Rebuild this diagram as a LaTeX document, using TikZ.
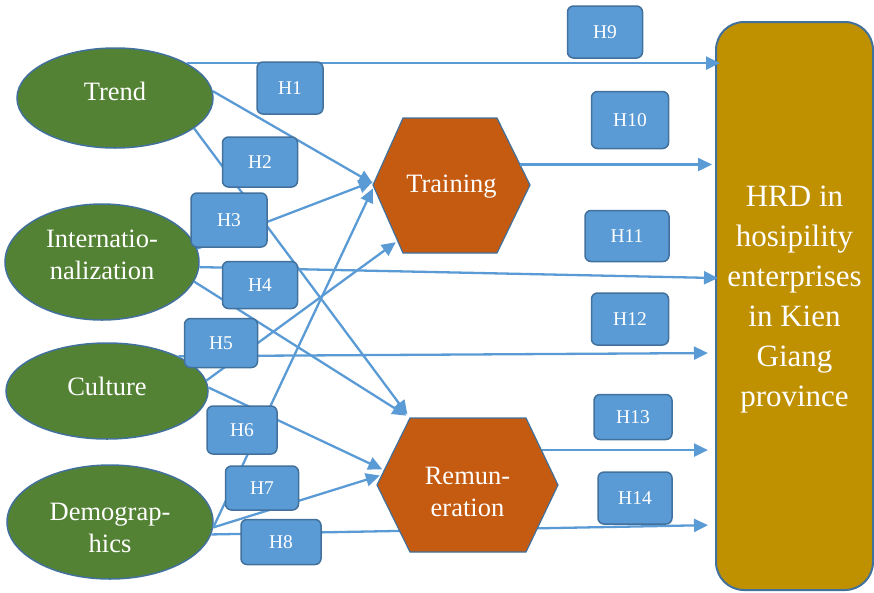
\documentclass[tikz,border=0pt]{standalone}
\usepackage{fontspec}
\setmainfont{Liberation Serif}
\usepackage{tikz}
\usetikzlibrary{calc}
\usetikzlibrary{arrows.meta}
\usetikzlibrary{shapes.geometric}

\definecolor{factgreen}{HTML}{548235}
\definecolor{edgeblue}{HTML}{41719C}
\definecolor{hypblue}{HTML}{5B9BD5}
\definecolor{hexorange}{HTML}{C55A11}
\definecolor{hrdgold}{HTML}{BF9000}

\tikzset{
  factor/.style={ellipse, draw=edgeblue, line width=1.5pt, fill=factgreen, text=white,
    align=center, inner sep=0pt, font=\fontsize{26.5}{32}\selectfont},
  midtext/.style={rectangle, draw=none, text=white, align=center, inner sep=0pt,
    font=\fontsize{26.5}{32}\selectfont},
  hexa/.style={draw=edgeblue, line width=1.2pt, fill=hexorange},
  outcome/.style={rectangle, rounded corners=28pt, draw=edgeblue, line width=2pt, fill=hrdgold,
    text=white, align=center, minimum width=157pt, minimum height=568pt, text depth=19pt,
    font=\fontsize{31}{40}\selectfont},
  hyp/.style={rectangle, rounded corners=6pt, draw=edgeblue, line width=1.5pt, fill=hypblue,
    text=white, inner sep=0pt, font=\fontsize{19.5}{22}\selectfont},
  link/.style={draw=hypblue, line width=2.3pt, -{Triangle[length=14pt,width=13pt]}}
}

\begin{document}
\begin{tikzpicture}[x=1pt,y=-1pt]
\useasboundingbox (0,0) rectangle (874,592);
% factors
\node[factor, minimum width=196pt, minimum height=100pt, text depth=14pt] (trend) at (115,98) {Trend};
\node[factor, minimum width=194pt, minimum height=116pt, text depth=14pt] (intl) at (102,262) {Internatio-\\nalization};
\node[factor, minimum width=202pt, minimum height=96pt, text depth=10pt] (cult) at (107,391) {Culture};
\node[factor, minimum width=206pt, minimum height=114pt] (demo) at (110,522) {\rule{0pt}{29pt}Demograp-\\hics};
% outcome
\node[outcome] (hrd) at (794.5,306) {HRD in\\hosipility\\enterprises\\in Kien\\Giang\\province};
\draw[link, shorten >=7pt] (demo.-7) -- ([yshift=-219pt]hrd.west);
% mediators
\filldraw[hexa] (373,185) -- (403,118) -- (497,118) -- (530,185) -- (497,253) -- (403,253) -- cycle;
\node[midtext, minimum width=157pt, minimum height=135pt, text depth=4pt] (train) at (451.5,185.5) {Training};
\filldraw[hexa] (377,485) -- (410,418) -- (526,418) -- (558,485) -- (526,552) -- (410,552) -- cycle;
\node[midtext, minimum width=181pt, minimum height=134pt] (remu) at (467.5,485) {\rule{0pt}{31pt}Remun-\\eration};
\coordinate (trainNE) at ([xshift=-33pt]train.north east);
\coordinate (trainSW) at ([xshift=30pt]train.south west);
\coordinate (remuNW) at ([xshift=33pt]remu.north west);
\coordinate (remuNE) at ([xshift=-32pt]remu.north east);
\coordinate (trainOut) at ($(trainNE)!.69!(train.east)$);
\coordinate (remuOut) at ($(remuNE)!.48!(remu.east)$);
% paths
\draw[link, shorten >=-5pt] (trend.26) -- (trend.26 -| hrd.west);
\draw[link] (trend.4) -- ([yshift=2pt]train.west);
\draw[link, shorten >=4pt] (trend.-21) -- (remuNW);
\draw[link] (intl.8) -- ([yshift=4pt]train.west);
\draw[link, shorten >=-3pt] (intl.-3) -- ([yshift=28pt]hrd.west);
\draw[link, shorten >=4pt] (intl.-12) -- (remuNW);
\draw[link, shorten >=2pt] (cult.6) -- ($(train.west)!.82!(trainSW)$);
\draw[link, shorten >=7pt] (cult.26) -- ([yshift=-47pt]hrd.west);
\draw[link, shorten >=2pt] (cult.2) -- ($(remu.west)!.22!(remuNW)$);
\draw[link] (demo.-3) -- ([yshift=-3pt]train.west);
\draw[link, shorten >=2pt] (demo.-3) -- ($(remu.west)!.15!(remuNW)$);
\draw[link, shorten >=3pt] (trainOut) -- (trainOut -| hrd.west);
\draw[link, shorten >=7pt] (remuOut) -- (remuOut -| hrd.west);
% hypotheses
\foreach \n/\x/\y/\w/\h in {1/290/88/66/52, 2/260/162/75/50, 3/229/220/76/54, 4/260/285/75/47,
  5/221/343/73/49, 6/242/430/70/48, 7/262/488/73/44, 8/281/542/80/45, 9/605/32/75/52,
  10/630/120/77/57, 11/627/236/84/51, 12/630/319/77/52, 13/633/417/78/45, 14/635/498/74/52}
  \node[hyp, minimum width=\w pt, minimum height=\h pt] (h\n) at (\x,\y) {H\n};
\end{tikzpicture}
\end{document}
